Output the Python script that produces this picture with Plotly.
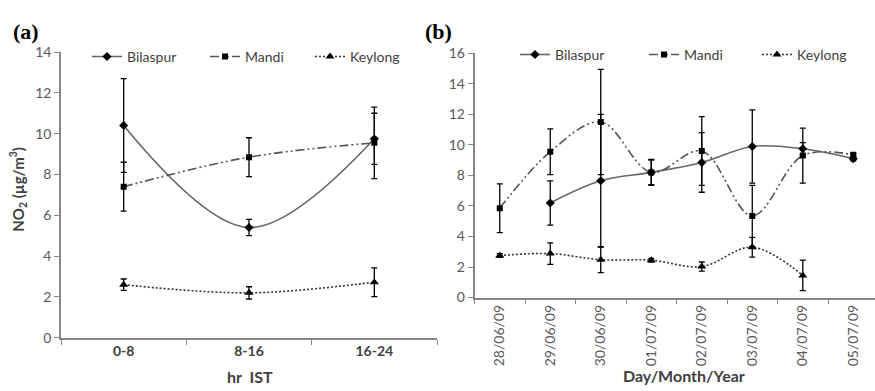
import plotly.graph_objects as go

W, H = 875, 391

# ---------------- data: panel (a) ----------------
hours = ["0-8", "8-16", "16-24"]
a_bilaspur = [10.4, 5.4, 9.75]
a_bilaspur_err = [2.3, 0.4, 1.25]
a_mandi = [7.4, 8.85, 9.55]
a_mandi_err = [1.2, 0.95, 1.75]
a_keylong = [2.6, 2.2, 2.72]
a_keylong_err = [0.28, 0.3, 0.7]

# ---------------- data: panel (b) ----------------
dates = ["28/06/09", "29/06/09", "30/06/09", "01/07/09",
         "02/07/09", "03/07/09", "04/07/09", "05/07/09"]
b_bilaspur_dates = ["29/06/09", "30/06/09", "01/07/09", "02/07/09",
                    "03/07/09", "04/07/09", "05/07/09"]
b_bilaspur = [6.2, 7.65, 8.2, 8.85, 9.9, 9.75, 9.1]
b_bilaspur_err = [1.45, 4.35, 0.8, 1.95, 2.4, 0.4, 0.15]
b_mandi_dates = dates
b_mandi = [5.85, 9.55, 11.5, 8.2, 9.6, 5.35, 9.3, 9.35]
b_mandi_err = [1.6, 1.5, 3.45, 0.85, 2.25, 2.0, 1.8, 0.1]
b_keylong_dates = ["28/06/09", "29/06/09", "30/06/09", "01/07/09",
                   "02/07/09", "03/07/09", "04/07/09"]
b_keylong = [2.75, 2.88, 2.48, 2.45, 2.03, 3.3, 1.45]
b_keylong_err = [0.12, 0.7, 0.85, 0.12, 0.3, 0.65, 1.0]

names = ["Bilaspur", "Mandi", "Keylong"]

TICK = "#595959"
AXIS = "#868686"
FONT = "Lato"

styles = {
    "Bilaspur": dict(line=dict(color="#666666", width=1.6, shape="spline"),
                     marker=dict(symbol="diamond", size=7, color="black")),
    "Mandi": dict(line=dict(color="#555555", width=1.6, shape="spline",
                            dash="9px,3px,2px,3px,2px,3px"),
                  marker=dict(symbol="square", size=6, color="black")),
    "Keylong": dict(line=dict(color="#333333", width=1.6, shape="spline",
                              dash="2px,2px"),
                    marker=dict(symbol="triangle-up", size=8, color="black")),
}


def err(arr):
    return dict(type="data", array=arr, color="black", thickness=1.3, width=3)


fig = go.Figure()

a_series = [(hours, a_bilaspur, a_bilaspur_err),
            (hours, a_mandi, a_mandi_err),
            (hours, a_keylong, a_keylong_err)]
b_series = [(b_bilaspur_dates, b_bilaspur, b_bilaspur_err),
            (b_mandi_dates, b_mandi, b_mandi_err),
            (b_keylong_dates, b_keylong, b_keylong_err)]

legend_ids = ["legend", "legend2", "legend3", "legend4", "legend5", "legend6"]

for i, (nm, (xs, ys, es)) in enumerate(zip(names, a_series)):
    fig.add_trace(go.Scatter(x=xs, y=ys, error_y=err(es), mode="lines+markers",
                             name=nm, xaxis="x", yaxis="y",
                             legend=legend_ids[i], **styles[nm]))
for i, (nm, (xs, ys, es)) in enumerate(zip(names, b_series)):
    fig.add_trace(go.Scatter(x=xs, y=ys, error_y=err(es), mode="lines+markers",
                             name=nm, xaxis="x2", yaxis="y2",
                             legend=legend_ids[3 + i], **styles[nm]))


def px_x(p):
    return p / W


def px_y(p):
    return (H - p) / H


common_axis = dict(showline=True, linecolor=AXIS, linewidth=1.5, ticks="outside",
                   tickcolor=AXIS, ticklen=5, tickwidth=1.3, showgrid=False,
                   zeroline=False, mirror=False)

layout = dict(
    width=W, height=H, margin=dict(l=0, r=0, t=0, b=0),
    paper_bgcolor="white", plot_bgcolor="white",
    font=dict(family=FONT, size=14, color=TICK),
    xaxis=dict(domain=[px_x(61), px_x(437)], type="category",
               categoryorder="array", categoryarray=hours,
               range=[-0.5, 2.5], tickson="boundaries", anchor="y",
               tickfont=dict(family=FONT, size=14, color="#404040", weight="bold"),
               **common_axis),
    yaxis=dict(domain=[px_y(343.7), px_y(45)], range=[0, 14], dtick=2,
               anchor="x", tickfont=dict(family=FONT, size=14, color=TICK),
               **common_axis),
    xaxis2=dict(domain=[px_x(474.5), 1.0], type="category",
                categoryorder="array", categoryarray=dates,
                range=[-0.5, 7.43], tickson="boundaries", anchor="y2",
                tickangle=-90,
                tickfont=dict(family=FONT, size=14, color=TICK),
                **common_axis),
    yaxis2=dict(domain=[px_y(301.7), px_y(46.3)], range=[0, 16], dtick=2,
                anchor="x2", tickfont=dict(family=FONT, size=14, color=TICK),
                **common_axis),
    showlegend=True,
)

# legend placements (left x of each entry, in pixels)
leg_pos = [87, 205, 310, 515, 644, 757]
leg_y = [50, 50, 50, 48, 48, 48]
for lid, lx, ly in zip(legend_ids, leg_pos, leg_y):
    layout[lid] = dict(x=px_x(lx), y=px_y(ly), xanchor="left", yanchor="middle",
                       orientation="h", bgcolor="rgba(0,0,0,0)",
                       font=dict(family=FONT, size=14, color="#404040"),
                       itemwidth=30, tracegroupgap=0)

fig.update_layout(**layout)

ann = [
    dict(text="<b>(a)</b>", x=px_x(26), y=px_y(24),
         font=dict(family="Liberation Serif", size=22, color="black")),
    dict(text="<b>(b)</b>", x=px_x(438), y=px_y(24),
         font=dict(family="Liberation Serif", size=22, color="black")),
    dict(text="<b>hr  IST</b>", x=px_x(250), y=px_y(384),
         font=dict(family=FONT, size=16, color="#404040")),
    dict(text="<b>Day/Month/Year</b>", x=px_x(684), y=px_y(383),
         font=dict(family=FONT, size=16, color="#404040")),
    dict(text="<b>NO<sub>2</sub> (µg/m<sup>3</sup>)</b>", x=px_x(18), y=px_y(189),
         textangle=-90,
         font=dict(family=FONT, size=15, color="#404040")),
]
for a in ann:
    a.update(xref="paper", yref="paper", showarrow=False,
             xanchor="center", yanchor="middle")
    fig.add_annotation(**a)

fig.write_html("out.html")
